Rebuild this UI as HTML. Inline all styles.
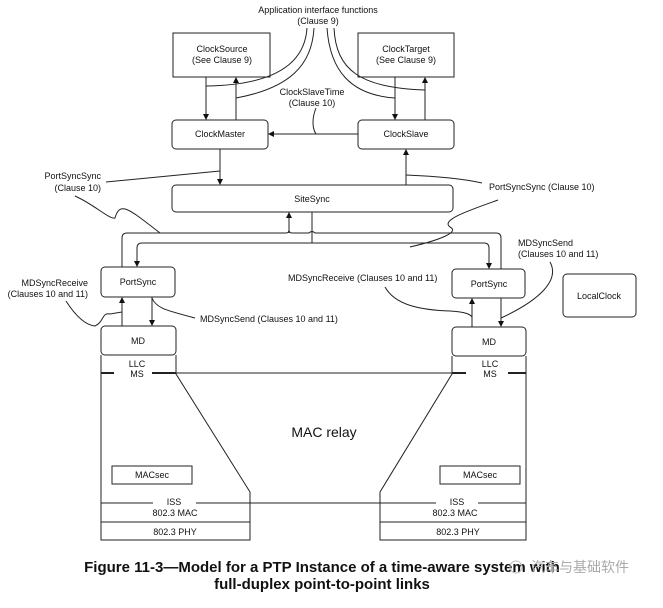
<!DOCTYPE html>
<html><head><meta charset="utf-8"><style>
html,body{margin:0;padding:0;background:#fff;}
svg{display:block;}
text{font-family:"Liberation Sans",Arial,sans-serif;font-size:9px;fill:#111;}
</style></head><body>
<svg width="663" height="608" viewBox="0 0 663 608" xmlns="http://www.w3.org/2000/svg">
<defs>
<marker id="a" markerWidth="6" markerHeight="6" refX="5" refY="3" orient="auto" markerUnits="userSpaceOnUse">
<path d="M0,0 L6,3 L0,6 z" fill="#111"/></marker>
</defs>
<g fill="none" stroke="#222" stroke-width="1">
<rect x="173" y="33" width="97" height="44"/>
<rect x="358" y="33" width="96" height="44"/>
<rect x="172" y="120" width="96" height="29" rx="4"/>
<rect x="358" y="120" width="96" height="29" rx="4"/>
<rect x="172" y="185" width="281" height="27" rx="4"/>
<rect x="101" y="267" width="74" height="30" rx="4"/>
<rect x="452" y="269" width="73" height="29" rx="4"/>
<rect x="101" y="326" width="75" height="29" rx="4"/>
<rect x="452" y="327" width="74" height="29" rx="4"/>
<rect x="563" y="274" width="73" height="43" rx="4"/>
<rect x="112" y="466" width="80" height="18"/>
<rect x="440" y="466" width="80" height="18"/>
<line x1="206" y1="77" x2="206" y2="119" marker-end="url(#a)"/>
<line x1="236" y1="120" x2="236" y2="78" marker-end="url(#a)"/>
<line x1="395" y1="77" x2="395" y2="119" marker-end="url(#a)"/>
<line x1="425" y1="120" x2="425" y2="78" marker-end="url(#a)"/>
<line x1="358" y1="134" x2="269" y2="134" marker-end="url(#a)"/>
<line x1="220" y1="149" x2="220" y2="184" marker-end="url(#a)"/>
<line x1="406" y1="185" x2="406" y2="150" marker-end="url(#a)"/>
<path d="M307,28 C305,60 280,85 206,86"/>
<path d="M314,28 C312,65 290,88 236,98"/>
<path d="M327,28 C330,70 350,95 395,98"/>
<path d="M334,28 C336,70 360,88 425,90"/>
<path d="M316,108 C312,118 312,128 316,134"/>
<path d="M106,182 L220,171"/>
<path d="M406,175 C430,176 460,178 482,183"/>
<path d="M75,196 C95,205 110,220 115,218 C120,200 130,210 160,233"/>
<path d="M498,200 C470,210 440,220 450,227 C460,232 440,240 410,247"/>
<line x1="289" y1="233" x2="289" y2="213" marker-end="url(#a)"/>
<line x1="312" y1="212" x2="312" y2="243"/>
<path d="M122,267 L122,238 Q122,233 127,233 L286,233 Q289,233 289,230 Q289,233 292,233 L309,233 Q312,230 315,233 L496,233 Q501,233 501,238 L501,269"/>
<path d="M312,243 L142,243 Q137,243 137,248 L137,266" marker-end="url(#a)"/>
<path d="M312,243 L484,243 Q489,243 489,248 L489,268" marker-end="url(#a)"/>
<line x1="122" y1="326" x2="122" y2="298" marker-end="url(#a)"/>
<line x1="152" y1="297" x2="152" y2="325" marker-end="url(#a)"/>
<line x1="472" y1="327" x2="472" y2="299" marker-end="url(#a)"/>
<line x1="501" y1="298" x2="501" y2="326" marker-end="url(#a)"/>
<path d="M66,301 C75,315 85,325 95,326 C104,322 102,312 110,314 L122,312"/>
<path d="M152,298 C156,308 165,310 195,318"/>
<path d="M385,287 C395,305 420,310 450,311 C465,312 470,314 472,317"/>
<path d="M550,262 C560,280 540,300 501,318"/>
<path d="M101,355 L101,540 L250,540 L250,492 L176,374 L176,355"/>
<path d="M526,356 L526,540 L380,540 L380,492 L452,374 L452,356"/>
<line x1="176" y1="373" x2="452" y2="373"/>
<line x1="250" y1="503" x2="380" y2="503"/>
<line x1="101" y1="522" x2="250" y2="522"/>
<line x1="380" y1="522" x2="526" y2="522"/>
<line x1="101" y1="503" x2="153" y2="503"/>
<line x1="196" y1="503" x2="250" y2="503"/>
<line x1="380" y1="503" x2="436" y2="503"/>
<line x1="478" y1="503" x2="526" y2="503"/>
</g>
<g stroke="#222" stroke-width="2">
<line x1="101" y1="373" x2="114" y2="373"/>
<line x1="152" y1="373" x2="176" y2="373"/>
<line x1="452" y1="373" x2="466" y2="373"/>
<line x1="508" y1="373" x2="526" y2="373"/>
</g>
<g text-anchor="middle">
<text x="318" y="13">Application interface functions</text>
<text x="318" y="24">(Clause 9)</text>
<text x="222" y="52">ClockSource</text>
<text x="222" y="63">(See Clause 9)</text>
<text x="406" y="52">ClockTarget</text>
<text x="406" y="63">(See Clause 9)</text>
<text x="312" y="95">ClockSlaveTime</text>
<text x="312" y="106">(Clause 10)</text>
<text x="220" y="137">ClockMaster</text>
<text x="406" y="137">ClockSlave</text>
<text x="312" y="202">SiteSync</text>
<text x="138" y="285">PortSync</text>
<text x="489" y="287">PortSync</text>
<text x="138" y="344">MD</text>
<text x="489" y="345">MD</text>
<text x="599" y="299">LocalClock</text>
<text x="137" y="367">LLC</text>
<text x="137" y="377">MS</text>
<text x="490" y="367">LLC</text>
<text x="490" y="377">MS</text>
<text x="152" y="478">MACsec</text>
<text x="480" y="478">MACsec</text>
<text x="174" y="505">ISS</text>
<text x="457" y="505">ISS</text>
<text x="175" y="516">802.3 MAC</text>
<text x="455" y="516">802.3 MAC</text>
<text x="175" y="535">802.3 PHY</text>
<text x="458" y="535">802.3 PHY</text>
<text x="324" y="437" style="font-size:14px">MAC relay</text>
</g>
<text x="101" y="179" text-anchor="end">PortSyncSync</text>
<text x="101" y="191" text-anchor="end">(Clause 10)</text>
<text x="489" y="190">PortSyncSync (Clause 10)</text>
<text x="88" y="286" text-anchor="end">MDSyncReceive</text>
<text x="88" y="297" text-anchor="end">(Clauses 10 and 11)</text>
<text x="200" y="322">MDSyncSend (Clauses 10 and 11)</text>
<text x="288" y="281">MDSyncReceive (Clauses 10 and 11)</text>
<text x="518" y="246">MDSyncSend</text>
<text x="518" y="257">(Clauses 10 and 11)</text>
<text x="322" y="572" text-anchor="middle" style="font-size:15px;font-weight:bold">Figure 11-3—Model for a PTP Instance of a time-aware system with</text>
<text x="322" y="589" text-anchor="middle" style="font-size:15px;font-weight:bold">full-duplex point-to-point links</text>
<circle cx="516" cy="567" r="6" fill="none" stroke="#bbb"/>
<text x="531" y="572" style="font-size:14px;fill:#aaa;font-family:'Liberation Sans','Noto Sans CJK SC',sans-serif">汽车与基础软件</text>
</svg>
</body></html>
